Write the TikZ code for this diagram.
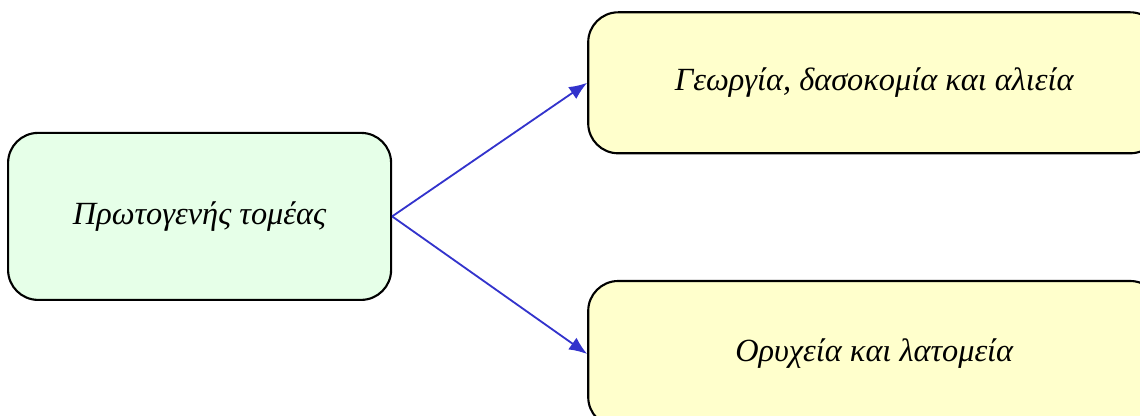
\documentclass[tikz,border=0pt]{standalone}
\usepackage{fontspec}
\setmainfont{Liberation Serif}
\usetikzlibrary{
  shapes,
  positioning,
  arrows.meta
}
\definecolor{boxgreen}{RGB}{230,255,232}
\definecolor{boxyellow}{RGB}{255,255,204}
\definecolor{arrowblue}{RGB}{51,51,204}

\begin{document}
\begin{tikzpicture}[node distance = 4.875cm,
    sector/.style = {draw, line width=1.5pt, rounded corners=0.75cm, align=center,
      font=\fontsize{23}{28}\selectfont\itshape},
    link/.style = {draw=arrowblue, line width=1.3pt, -{Latex[length=4.5mm,width=3.6mm]}}]
    \useasboundingbox (0,0) rectangle (28.5,-10.4);
    \node[sector,fill=boxgreen,minimum width=9.575cm,minimum height=4.175cm] (1) at (4.99,-5.41) {Πρωτογενής τομέας};
    \node[sector,fill=boxyellow,minimum width=14.3cm,minimum height=3.525cm,right = of 1,yshift=3.34cm] (2) {Γεωργία, δασοκομία και αλιεία};
    \node[sector,fill=boxyellow,minimum width=14.3cm,minimum height=3.65cm,right = of 1,yshift=-3.44cm] (3) {Ορυχεία και λατομεία};

    \draw[link] (1.east) -- (2.west);
    \draw[link] (1.east) -- (3.west);
  \end{tikzpicture}
\end{document}
